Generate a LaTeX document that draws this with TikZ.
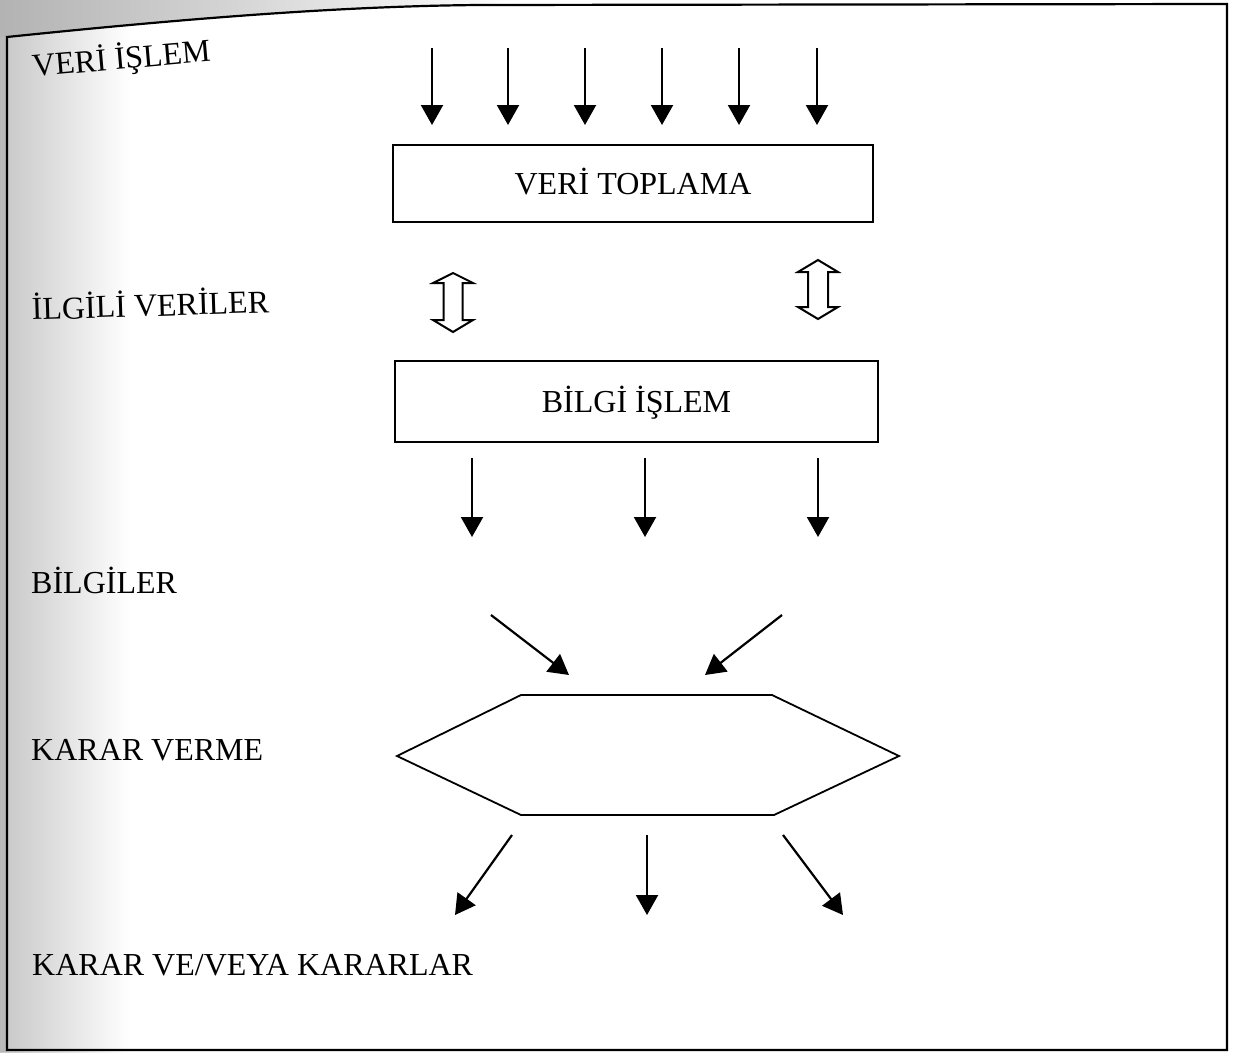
\documentclass[tikz,border=0pt]{standalone}
\usepackage{fontspec}
\setmainfont{Liberation Serif}
\usetikzlibrary{arrows.meta}
\begin{document}
\begin{tikzpicture}[x=1pt,y=-1pt,
  lbl/.style={inner sep=0pt, anchor=base west, font=\fontsize{32}{38}\selectfont},
  boxnode/.style={draw, line width=1.6pt, inner sep=0pt, text height=21pt, text depth=0pt, font=\fontsize{32}{38}\selectfont},
  arr/.style={line width=2.2pt, -{Triangle[length=20pt,width=22pt]}},
  dbl/.style={line width=2pt, line join=miter},
  frame/.style={line width=2.2pt}]
\useasboundingbox (0,0) rectangle (1236,1052);
% scan shading on the left
\shade[left color=black!22, right color=white] (0,0) rectangle (130,1052);
\shade[left color=black!30, right color=white] (0,0) -- (520,0) -- (480,5) .. controls (350,6) and (200,17) .. (7,37) -- (0,37) -- cycle;
\fill[black!28] (0,37) rectangle (7,1052);
% frame
\coordinate (fa) at (7,37);
\coordinate (fb) at (480,5);
\coordinate (fc) at (1227,4);
\coordinate (fd) at (1227,1050);
\coordinate (fe) at (7,1050);
\draw[frame] (fa) .. controls (200,17) and (350,6) .. (fb) -- (fc) -- (fd) -- (fe) -- cycle;
% labels
\node[lbl, rotate=5] (l1) at (33,77) {VERİ İŞLEM};
\node[lbl, rotate=1.8] (l2) at (32,320) {İLGİLİ VERİLER};
\node[lbl] (l3) at (31,593) {BİLGİLER};
\node[lbl] (l4) at (31,760) {KARAR VERME};
\node[lbl] (l5) at (32,975) {KARAR VE/VEYA KARARLAR};
% boxes
\node[boxnode, minimum width=480pt, minimum height=77pt] (toplama) at (633,183.5) {VERİ TOPLAMA};
\node[boxnode, minimum width=483pt, minimum height=81pt] (bislem) at (636.5,401.5) {BİLGİ İŞLEM};
% top arrows
\foreach \x [count=\i] in {432,508,585,662,739,817}{
  \coordinate (ts\i) at (\x,48);
  \coordinate (te\i) at (\x,125);
  \draw[arr] (ts\i) -- (te\i);
}
% double arrows
\coordinate (da) at (453,273);
\coordinate (db) at (818,260);
\draw[dbl] (da) -- ++(20,10) -- ++(-10.5,0) -- ++(0,37) -- ++(10.5,0) -- ++(-20,12) -- ++(-20,-12) -- ++(10.5,0) -- ++(0,-37) -- ++(-10.5,0) -- cycle;
\draw[dbl] (db) -- ++(20,12) -- ++(-10,0) -- ++(0,35) -- ++(10,0) -- ++(-20,12) -- ++(-20,-12) -- ++(10,0) -- ++(0,-35) -- ++(-10,0) -- cycle;
% arrows below BILGI ISLEM
\foreach \x [count=\i] in {472,645,818}{
  \coordinate (ms\i) at (\x,458);
  \coordinate (me\i) at (\x,537);
  \draw[arr] (ms\i) -- (me\i);
}
% converging arrows
\coordinate (c1s) at (491,615);
\coordinate (c1e) at (569,675);
\coordinate (c2s) at (782,615);
\coordinate (c2e) at (705,675);
\draw[arr] (c1s) -- (c1e);
\draw[arr] (c2s) -- (c2e);
% hexagon
\coordinate (h1) at (397,756);
\coordinate (h2) at (521,695);
\coordinate (h3) at (772,695);
\coordinate (h4) at (899,756);
\coordinate (h5) at (774,815);
\coordinate (h6) at (521,815);
\draw[line width=1.8pt, line join=miter] (h1) -- (h2) -- (h3) -- (h4) -- (h5) -- (h6) -- cycle;
% diverging arrows
\coordinate (d1s) at (512,835);
\coordinate (d1e) at (455,915);
\coordinate (d2s) at (647,835);
\coordinate (d2e) at (647,915);
\coordinate (d3s) at (783,835);
\coordinate (d3e) at (843,915);
\draw[arr] (d1s) -- (d1e);
\draw[arr] (d2s) -- (d2e);
\draw[arr] (d3s) -- (d3e);
\end{tikzpicture}
\end{document}
